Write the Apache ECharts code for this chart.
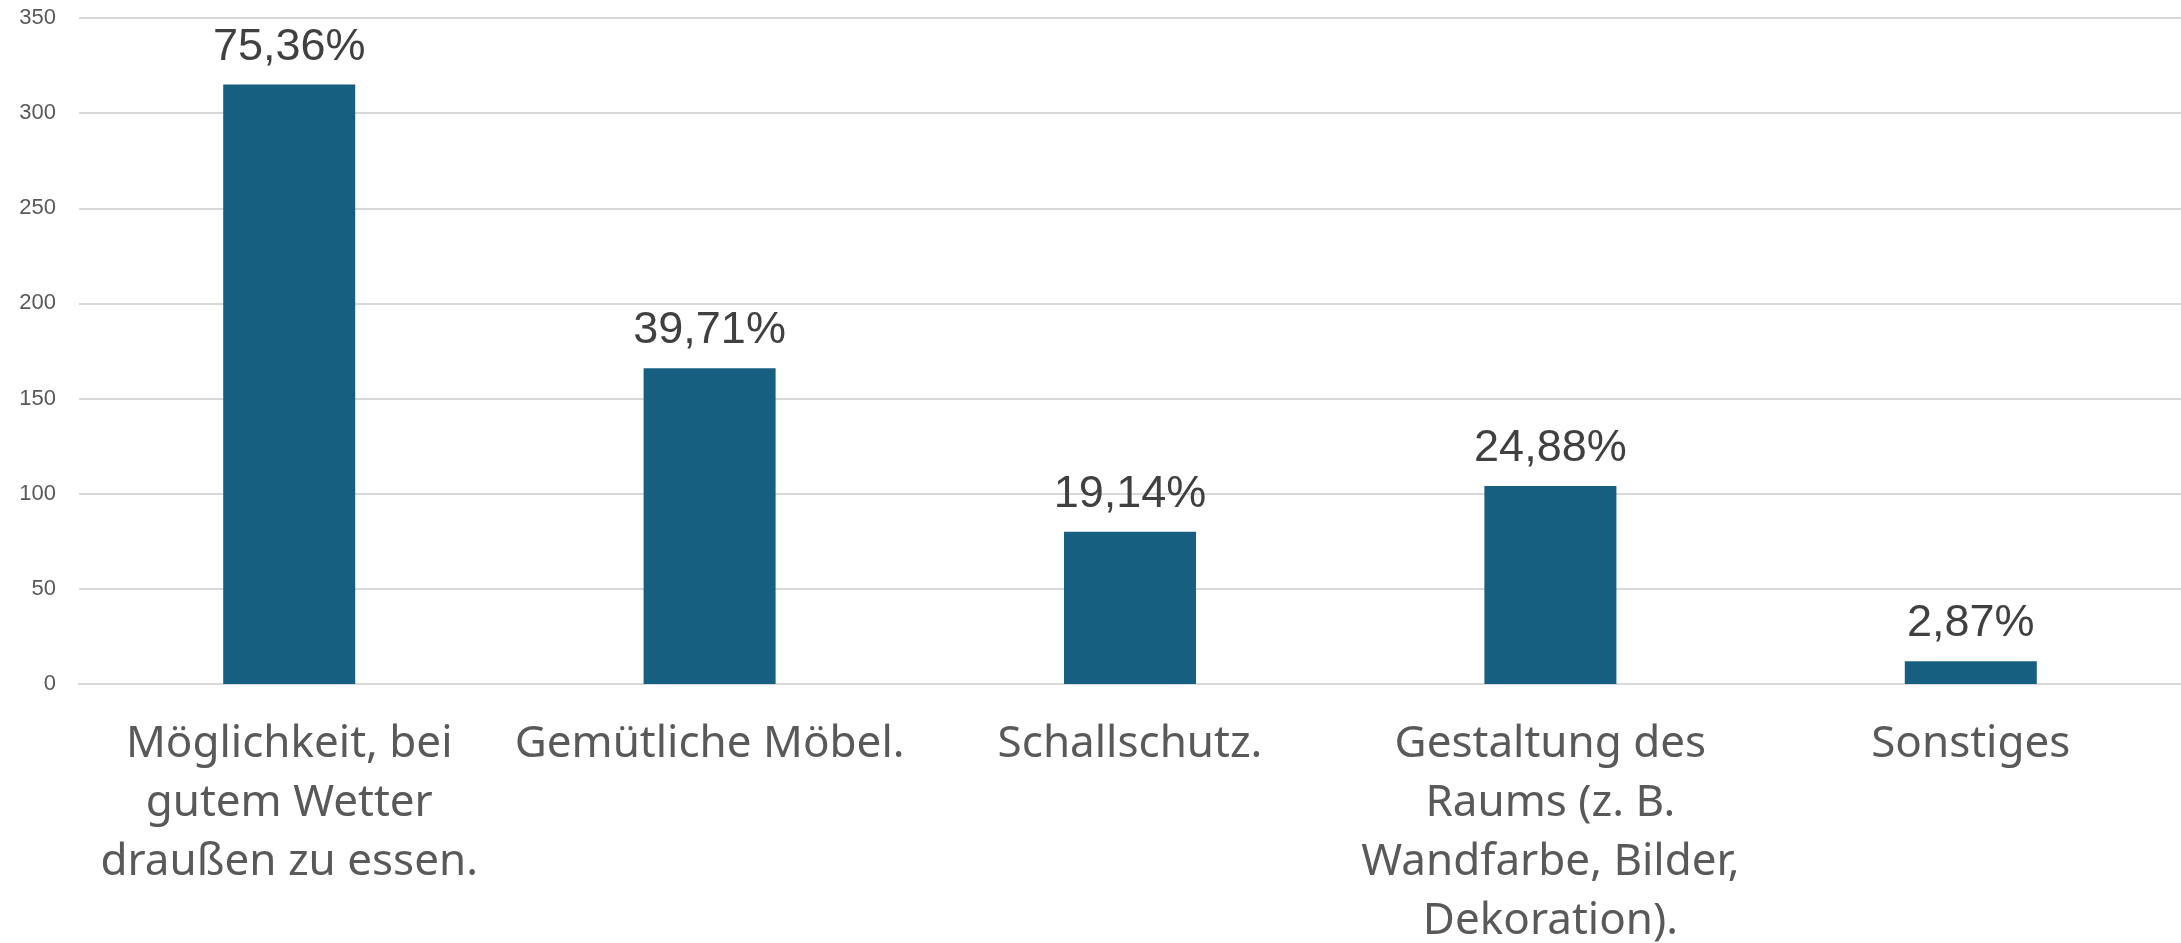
<!DOCTYPE html>
<html>
<head>
<meta charset="utf-8">
<script src="https://cdn.jsdelivr.net/npm/echarts@6/dist/echarts.min.js"></script>
<style>
  html, body { margin: 0; padding: 0; background: #fff; }
  .box { width: 2181px; height: 943px; }
</style>
</head>
<body>
<div class="box"></div>
<script>
var categories = [
    'Möglichkeit, bei\ngutem Wetter\ndraußen zu essen.',
    'Gemütliche Möbel.',
    'Schallschutz.',
    'Gestaltung des\nRaums (z. B.\nWandfarbe, Bilder,\nDekoration).',
    'Sonstiges'
];
var counts = [315, 166, 80, 104, 12];
var percentLabels = ['75,36%', '39,71%', '19,14%', '24,88%', '2,87%'];
var yTicks = { min: 0, max: 350, step: 50 };

window.onload = function () {
    var myChart = echarts.init(document.querySelector('.box'));
    var option = {
        animation: false,
        grid: {
            left: 79,
            right: 0,
            top: 18,
            bottom: 259,
            outerBoundsMode: 'none',
            containLabel: false
        },
        xAxis: {
            type: 'category',
            data: categories,
            axisLine: { show: true, lineStyle: { color: '#d9d9d9', width: 2 } },
            axisTick: { show: false },
            axisLabel: {
                interval: 0,
                margin: 31,
                color: '#595959',
                fontFamily: 'Noto Sans',
                fontSize: 44,
                lineHeight: 59
            }
        },
        yAxis: {
            type: 'value',
            min: yTicks.min,
            max: yTicks.max,
            interval: yTicks.step,
            axisLine: { show: false },
            axisTick: { show: false },
            splitLine: { lineStyle: { color: '#d9d9d9', width: 2 } },
            axisLabel: {
                margin: 23,
                color: '#595959',
                fontFamily: 'Liberation Sans',
                fontSize: 22
            }
        },
        series: [
            {
                type: 'bar',
                data: counts,
                barWidth: '31.4%',
                itemStyle: { color: '#175f80' },
                label: {
                    show: true,
                    position: 'top',
                    distance: 15,
                    color: '#404040',
                    fontFamily: 'Liberation Sans',
                    fontSize: 45,
                    formatter: function (p) {
                        return percentLabels[p.dataIndex];
                    }
                }
            }
        ]
    };
    myChart.setOption(option);

    window.onresize = function () {
        myChart.resize();
    };
};
</script>
</body>
</html>
